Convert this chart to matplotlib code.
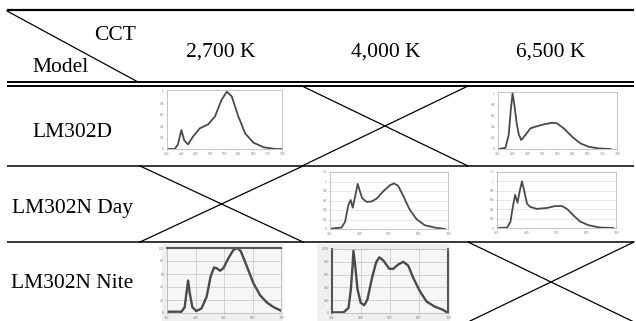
"""
LM302 spectrum overview table: model rows x CCT columns, with small SPD
thumbnails in the populated cells and crossed-out cells where no variant exists.
"""

import matplotlib
matplotlib.use("Agg")
import matplotlib.pyplot as plt
from matplotlib.patches import Rectangle

W, H = 636, 321

# header / row text
CCT_LABELS = ["2,700 K", "4,000 K", "6,500 K"]
MODEL_LABELS = ["LM302D", "LM302N Day", "LM302N Nite"]

# spectra (wavelength nm, relative power)
d2700_wl = [384, 407, 418, 430, 440, 453, 471, 494, 523, 547, 570, 588, 605, 628, 652, 681, 716, 757, 778]
d2700_val = [0.0, 0.0, 0.08, 0.33, 0.15, 0.08, 0.22, 0.36, 0.43, 0.57, 0.86, 1.0, 0.92, 0.57, 0.27, 0.11, 0.03, 0.0, 0.0]

d6500_wl = [382, 405, 416, 423, 429, 436, 443, 450, 458, 472, 489, 506, 534, 561, 578, 601, 629, 657, 685, 718, 758]
d6500_val = [0.0, 0.02, 0.25, 0.7, 1.0, 0.75, 0.45, 0.26, 0.16, 0.25, 0.37, 0.40, 0.44, 0.47, 0.46, 0.37, 0.22, 0.10, 0.04, 0.01, 0.0]

day4000_wl = [386, 419, 431, 442, 450, 457, 464, 474, 481, 489, 504, 521, 538, 560, 583, 597, 611, 628, 650, 673, 701, 735, 769]
day4000_val = [0.01, 0.03, 0.15, 0.5, 0.61, 0.45, 0.65, 0.95, 0.80, 0.65, 0.57, 0.58, 0.64, 0.79, 0.92, 0.96, 0.91, 0.70, 0.41, 0.21, 0.08, 0.03, 0.0]

day6500_wl = [386, 414, 425, 434, 441, 449, 456, 464, 472, 481, 492, 514, 548, 576, 598, 615, 637, 659, 687, 726, 771]
day6500_val = [0.0, 0.01, 0.13, 0.48, 0.71, 0.54, 0.78, 1.0, 0.78, 0.52, 0.45, 0.41, 0.43, 0.47, 0.47, 0.41, 0.27, 0.14, 0.06, 0.01, 0.0]

nite2700_wl = [384, 431, 442, 448, 454, 460, 469, 483, 501, 519, 533, 545, 554, 566, 578, 595, 613, 627, 639, 660, 683, 707, 731, 754, 778]
nite2700_val = [2, 2, 9, 30, 50, 30, 9, 3, 7, 25, 56, 70, 69, 65, 69, 84, 97, 100, 95, 72, 46, 27, 16, 9, 4]

nite4000_wl = [383, 420, 437, 445, 451, 454, 460, 468, 479, 491, 502, 517, 532, 543, 557, 578, 591, 609, 626, 643, 660, 683, 706, 734, 763, 776]
nite4000_val = [10, 10, 80, 370, 740, 970, 740, 370, 160, 120, 210, 530, 790, 870, 820, 690, 690, 760, 800, 740, 550, 340, 180, 100, 50, 10]

# thumbnail tick labels
WIDE_XTICKS = [380, 430, 480, 530, 580, 630, 680, 730, 780]
NARROW_XTICKS = [380, 480, 580, 680, 780]
D2700_YTICKS = [0, 0.2, 0.4, 0.6, 0.8, 1.0]
D6500_YTICKS = [0, 0.2, 0.4, 0.6, 0.8, 1.0]
DAY_YTICKS = [0, 0.2, 0.4, 0.6, 0.8, 1.0, 1.2]
NITE2700_YTICKS = [0, 20, 40, 60, 80, 100]
NITE4000_YTICKS = [0, 200, 400, 600, 800, 1000]

plt.rcParams["font.family"] = ["Liberation Serif", "DejaVu Serif"]

fig = plt.figure(figsize=(W / 100, H / 100), dpi=100)
ax = fig.add_axes([0, 0, 1, 1])
ax.set_xlim(0, W)
ax.set_ylim(H, 0)
ax.axis("off")


def px_rect(x0, y0, x1, y1):
    return [x0 / W, 1 - y1 / H, (x1 - x0) / W, (y1 - y0) / H]


def hline(y, lw, x0=7, x1=634):
    ax.plot([x0, x1], [y, y], color="black", lw=lw, solid_capstyle="butt")


def cross(x0, y0, x1, y1):
    ax.plot([x0, x1], [y0, y1], color="black", lw=0.9)
    ax.plot([x0, x1], [y1, y0], color="black", lw=0.9)


# table rules
hline(10, 1.6)
hline(82, 1.4)
hline(86, 1.4)
hline(166, 1.1)
hline(242, 1.1)
ax.plot([7, 138], [11, 82], color="black", lw=0.9)

# header text
ax.text(115, 40, "CCT", fontsize=15.5, ha="center", va="baseline")
ax.text(61, 72, "Model", fontsize=15.5, ha="center", va="baseline")
for cx, lab in zip([221, 386, 551], CCT_LABELS):
    ax.text(cx, 57, lab, fontsize=15.5, ha="center", va="baseline")
for by, lab in zip([137, 213, 288], MODEL_LABELS):
    ax.text(72, by, lab, fontsize=15.5, ha="center", va="baseline")

# empty cells
cross(302, 86, 468, 166)
cross(140, 166, 303, 242)
cross(468, 242, 634, 322)


def thumb(rect, wl, val, xticks, yticks, ylim, style):
    tax = fig.add_axes(px_rect(*rect))
    lw = 1.7 if style == "nite" else 1.3
    tax.plot(wl, val, color="#4a4a4a", lw=lw)
    tax.set_xlim(380, 780)
    tax.set_ylim(*ylim)
    tax.set_xticks(xticks)
    tax.set_yticks(yticks)
    tax.set_xticklabels([str(t) for t in xticks])
    tax.set_yticklabels([("%g" % t) for t in yticks])
    tax.tick_params(labelsize=2.6, length=1, width=0.4, pad=1.2,
                    colors="#999999", labelcolor="#777777")
    for sp in tax.spines.values():
        sp.set_color("#bbbbbb")
        sp.set_linewidth(0.6)
    if style == "day":
        tax.grid(axis="y", color="#dddddd", lw=0.5)
    if style == "nite":
        tax.set_facecolor("#f6f6f6")
        tax.grid(True, color="#c4c4c4", lw=0.5)
    tax.set_axisbelow(True)
    return tax


thumb((167, 90, 282, 149), d2700_wl, d2700_val, WIDE_XTICKS, D2700_YTICKS, (0, 1.03), "plain")
thumb((498, 92, 617, 149), d6500_wl, d6500_val, WIDE_XTICKS, D6500_YTICKS, (0, 1.02), "plain")
thumb((330, 172, 448, 229), day4000_wl, day4000_val, NARROW_XTICKS, DAY_YTICKS, (0, 1.2), "day")
thumb((497, 172, 616, 228), day6500_wl, day6500_val, NARROW_XTICKS, DAY_YTICKS, (0, 1.2), "day")

# grey backdrop behind the spectrometer screenshots
ax.add_patch(Rectangle((162, 244), 121, 77, facecolor="#efefef", edgecolor="none"))
ax.add_patch(Rectangle((317, 244), 133, 77, facecolor="#efefef", edgecolor="none"))

n27 = thumb((167, 248, 281, 313), nite2700_wl, nite2700_val, NARROW_XTICKS, NITE2700_YTICKS, (0, 100), "nite")
n27.spines["top"].set_color("#555555")
n27.spines["top"].set_linewidth(1.5)

n40 = thumb((332, 249, 448, 313), nite4000_wl, nite4000_val, NARROW_XTICKS, NITE4000_YTICKS, (0, 1000), "nite")
for side in ("left", "right"):
    n40.spines[side].set_color("#555555")
    n40.spines[side].set_linewidth(1.5)

fig.savefig("out.png", dpi=100)
